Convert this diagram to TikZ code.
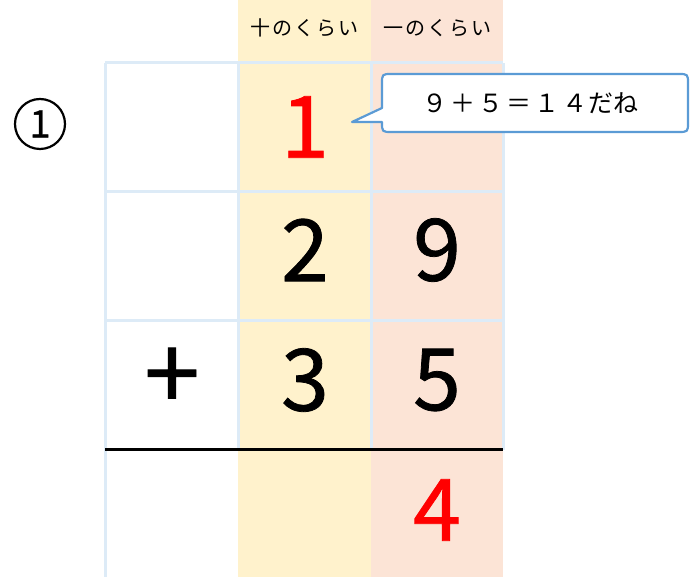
\documentclass[tikz,border=0pt]{standalone}
\usepackage{fontspec}
\newfontfamily\jp{Noto Sans CJK JP}
\newfontfamily\jpd[FakeBold=0.9]{Noto Sans CJK JP}
\definecolor{tens}{HTML}{FFF2CC}
\definecolor{ones}{HTML}{FCE4D6}
\definecolor{grid}{HTML}{DDEBF7}
\definecolor{bubble}{HTML}{5B9BD5}
\definecolor{ans}{HTML}{FF0000}
\begin{document}
\begin{tikzpicture}[x=1pt,y=-1pt,
  digit/.style={font=\jpd\fontsize{86}{86}\selectfont, inner sep=0pt},
  head/.style={font=\jp\fontsize{20}{20}\selectfont, inner sep=0pt},
  gridline/.style={grid, line width=3pt},
]
\useasboundingbox (0,0) rectangle (697,577);
% column backgrounds
\fill[tens] (238,0) rectangle (371,577);
\fill[ones] (371,0) rectangle (503,577);
% grid
\foreach \x in {105,238,371,503} \draw[gridline] (\x,63) -- (\x,450);
\draw[gridline] (105,450) -- (105,577);
\foreach \y in {63,192,321} \draw[gridline] (105,\y) -- (503,\y);
\draw[black, line width=3pt] (105,450) -- (503,450);
% headers
\node[head] (h10) at (304.5,28) {十\kern2pt の\kern2pt く\kern2pt ら\kern2pt い};
\node[head] (h1) at (437,28) {一\kern2pt の\kern2pt く\kern2pt ら\kern2pt い};
% problem number
\node[draw, circle, line width=2.2pt, minimum size=50pt, inner sep=0pt,
  font=\jpd\fontsize{38}{38}\selectfont] (num) at (40,124) {1};
% digits
\node[digit, text=ans] (carry) at (305,127) {1};
\node[digit] (d2) at (305,250) {2};
\node[digit] (d9) at (437,250) {9};
\node[digit, font=\jpd\fontsize{100}{100}\selectfont] (plus) at (172,379) {+};
\node[digit] (d3) at (305,380) {3};
\node[digit] (d5) at (437,380) {5};
\node[digit, text=ans] (r4) at (437,510) {4};
% callout
\draw[bubble, fill=white, line width=2.2pt, line join=round]
  (352,122) -- (382,108) -- (382,84) .. controls (382,74) .. (392,74)
  -- (678,74) .. controls (688,74) .. (688,84) -- (688,122)
  .. controls (688,132) .. (678,132) -- (392,132)
  .. controls (382,132) .. (382,122) -- cycle;
\node[font=\jp\fontsize{25}{25}\selectfont, inner sep=0pt] (say) at (530,103) {９\kern3pt ＋\kern3pt ５\kern3pt ＝\kern3pt １\kern3pt ４\kern1pt だね};
\end{tikzpicture}
\end{document}
